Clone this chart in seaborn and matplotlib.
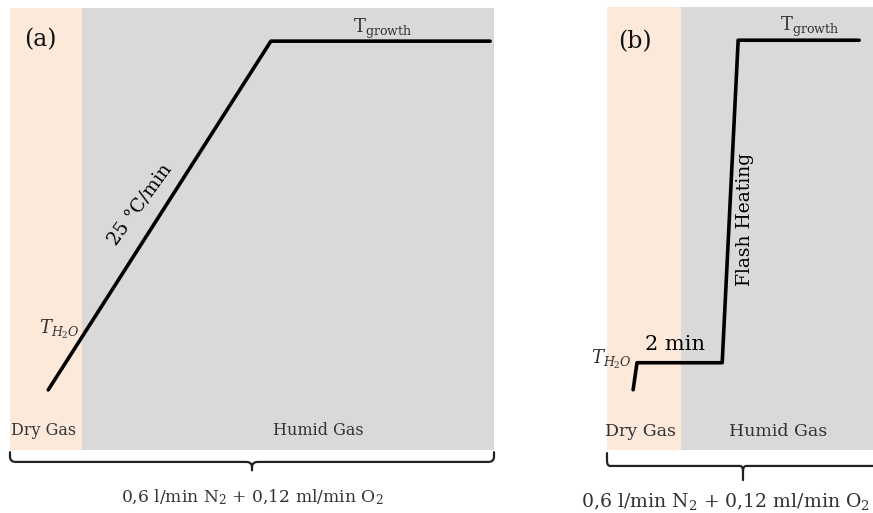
import matplotlib
matplotlib.use("Agg")
import matplotlib.pyplot as plt
import seaborn as sns
import numpy as np
from matplotlib.path import Path
from matplotlib.patches import PathPatch

# ---------------- data (arbitrary schematic units) ----------------
# panel (a): linear ramp 25 °C/min
a_time = [7.9, 53.9, 99.2]
a_temp = [13.6, 92.5, 92.5]
a_dry_end = 14.9
a_xmax = 100.0

# panel (b): 2 min hold, then flash heating
b_time = [5.4, 6.2, 23.8, 27.1, 52.1]
b_temp = [13.6, 19.7, 19.7, 92.5, 92.5]
b_dry_end = 15.3
b_xmax = 56.2

ymax = 100.0
flow_label = "0,6 l/min N$_2$ + 0,12 ml/min O$_2$"
zone_labels = ["Dry Gas", "Humid Gas"]
panel_labels = ["(a)", "(b)"]

PEACH = "#fce9da"
GREY = "#d9d9d9"
TXT = "#333333"

sns.set_theme(style="white")
plt.rcParams["font.family"] = ["DejaVu Serif", "DejaVu Sans"]
plt.rcParams["mathtext.fontset"] = "dejavuserif"

W, H = 873, 513
fig = plt.figure(figsize=(W / 100, H / 100), dpi=100)
fig.patch.set_facecolor("white")

axa = fig.add_axes([10 / W, 63 / H, 484 / W, 442 / H])
axb = fig.add_axes([607 / W, 63 / H, 272 / W, 443 / H])


def brace(ax, ytop, ymid, ytip, rx=0.012, ry=0.012, lw=1.6):
    xc = 0.5
    verts = [
        (0, ytop), (0, ymid + ry), (0, ymid), (rx, ymid),
        (xc - rx, ymid), (xc, ymid), (xc, ymid - ry), (xc, ytip),
        (xc, ymid - ry), (xc, ymid), (xc + rx, ymid),
        (1 - rx, ymid), (1, ymid), (1, ymid + ry), (1, ytop),
    ]
    codes = [
        Path.MOVETO, Path.LINETO, Path.CURVE3, Path.CURVE3,
        Path.LINETO, Path.CURVE3, Path.CURVE3, Path.LINETO,
        Path.MOVETO, Path.CURVE3, Path.CURVE3,
        Path.LINETO, Path.CURVE3, Path.CURVE3, Path.LINETO,
    ]
    p = PathPatch(Path(verts, codes), transform=ax.transAxes, fill=False,
                  lw=lw, edgecolor="#222222", clip_on=False,
                  capstyle="round", joinstyle="round")
    ax.add_patch(p)


for ax, xmax, dry in [(axa, a_xmax, a_dry_end), (axb, b_xmax, b_dry_end)]:
    ax.set_xlim(0, xmax)
    ax.set_ylim(0, ymax)
    ax.axvspan(0, dry, color=PEACH, lw=0, zorder=0)
    ax.axvspan(dry, xmax, color=GREY, lw=0, zorder=0)
    ax.set_xticks([])
    ax.set_yticks([])
    ax.set_xlabel("")
    ax.set_ylabel("")
    for s in ax.spines.values():
        s.set_visible(False)

sns.lineplot(x=a_time, y=a_temp, ax=axa, sort=False, estimator=None,
             color="black", lw=2.6, solid_capstyle="round")
sns.lineplot(x=b_time, y=b_temp, ax=axb, sort=False, estimator=None,
             color="black", lw=2.6, solid_capstyle="round")

# ---- panel (a) texts ----
axa.text(6.2, 92.8, panel_labels[0], ha="center", va="center", fontsize=17, color="#111111")
axa.text(77.1, 95.2, r"$\mathrm{T}_{\mathrm{growth}}$", ha="center", va="center", fontsize=13, color=TXT)
axa.text(26.8, 55.6, "25 °C/min", ha="center", va="center", fontsize=13.5,
         rotation=54, color="#000000")
axa.text(10.3, 27.2, r"$T_{H_2O}$", ha="center", va="center", fontsize=13, color=TXT)
axa.text(7.0, 4.5, zone_labels[0], ha="center", va="center", fontsize=11.5, color=TXT)
axa.text(63.8, 4.5, zone_labels[1], ha="center", va="center", fontsize=11.5, color=TXT)
brace(axa, -0.005, -0.027, -0.046)
axa.text(0.5, -0.107, flow_label, transform=axa.transAxes, ha="center", va="center",
         fontsize=12.3, color=TXT)

# ---- panel (b) texts ----
axb.text(5.8, 92.1, panel_labels[1], ha="center", va="center", fontsize=17, color="#111111")
axb.text(41.9, 95.5, r"$\mathrm{T}_{\mathrm{growth}}$", ha="center", va="center", fontsize=13, color=TXT)
axb.text(28.5, 52.0, "Flash Heating", ha="center", va="center", fontsize=13.5,
         rotation=90, color="#000000")
axb.text(14.0, 23.8, "2 min", ha="center", va="center", fontsize=15, color="#000000")
axb.text(1.0, 20.4, r"$T_{H_2O}$", ha="center", va="center", fontsize=13, color=TXT)
axb.text(7.0, 4.1, zone_labels[0], ha="center", va="center", fontsize=12.5, color=TXT)
axb.text(35.3, 4.1, zone_labels[1], ha="center", va="center", fontsize=12.5, color=TXT)
brace(axb, -0.007, -0.036, -0.068)
axb.text(0.437, -0.117, flow_label, transform=axb.transAxes, ha="center", va="center",
         fontsize=13.6, color=TXT)

fig.savefig("out.png", dpi=100)
